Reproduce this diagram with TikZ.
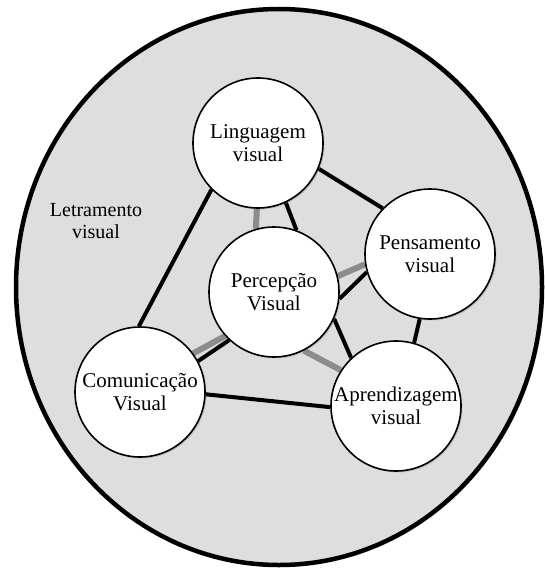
\documentclass[tikz,border=0pt]{standalone}
\usepackage{fontspec}
\setmainfont{Liberation Serif}
\usetikzlibrary{shapes.geometric,shadows}
\definecolor{bgfill}{RGB}{222,222,222}
\definecolor{shadeline}{RGB}{140,140,140}
\pgfdeclarelayer{bg}
\pgfsetlayers{bg,main}
\begin{document}
\begin{tikzpicture}[x=1pt,y=1pt,
  bubble/.style={circle, draw=black, line width=1.6pt, fill=white, minimum size=130pt, inner sep=0pt,
    drop shadow={shadow xshift=1.5pt, shadow yshift=-1.5pt, opacity=0.3}},
  bubbletext/.style={align=center, font=\fontsize{21}{23.5}\selectfont, inner sep=0pt},
  outertext/.style={align=center, font=\fontsize{20}{22}\selectfont, inner sep=0pt},
  blackedge/.style={line width=4pt, draw=black},
  grayedge/.style={line width=6pt, draw=shadeline},
]
\useasboundingbox (0,0) rectangle (544,-572);
\node[bubble] (ling) at (258,-143) {};
\node[bubble] (perc) at (274,-292) {};
\node[bubble] (pens) at (430,-254) {};
\node[bubble] (comu) at (140,-392) {};
\node[bubble] (apre) at (396,-406) {};
\begin{pgfonlayer}{bg}
\node[ellipse, draw=black, line width=4.5pt, fill=bgfill, minimum width=526pt, minimum height=556pt,
  inner sep=0pt, drop shadow={shadow xshift=2pt, shadow yshift=-2pt, opacity=0.25}] (outer) at (279,-287) {};
\draw[blackedge] (ling.-23) -- (pens.136);
\draw[blackedge] (ling.-135) -- (comu.91);
\draw[blackedge] (pens.-99) -- (apre.74);
\draw[blackedge] (comu.-2) -- (apre.-179);
\draw[grayedge] (ling.-91) -- (perc.106);
\draw[blackedge] (ling.-65) -- (perc.70);
\draw[grayedge] (perc.14) -- (pens.189);
\draw[blackedge] (perc.-6) -- (pens.196);
\draw[grayedge] (comu.36) -- (perc.222);
\draw[blackedge] (comu.28) -- (perc.227);
\draw[grayedge] (perc.-63) -- (apre.147);
\draw[blackedge] (perc.-24) -- (apre.133);
\end{pgfonlayer}
\node[bubbletext] (lingt) at (ling) {Linguagem\\visual};
\node[bubbletext] (perct) at (perc) {Percepção\\Visual};
\node[bubbletext] (penst) at (pens) {Pensamento\\visual};
\node[bubbletext] (comut) at (comu) {Comunicação\\Visual};
\node[bubbletext] (apret) at (apre) {Aprendizagem\\visual};
\node[outertext] (letr) at (96,-221) {Letramento\\visual};
\end{tikzpicture}
\end{document}
